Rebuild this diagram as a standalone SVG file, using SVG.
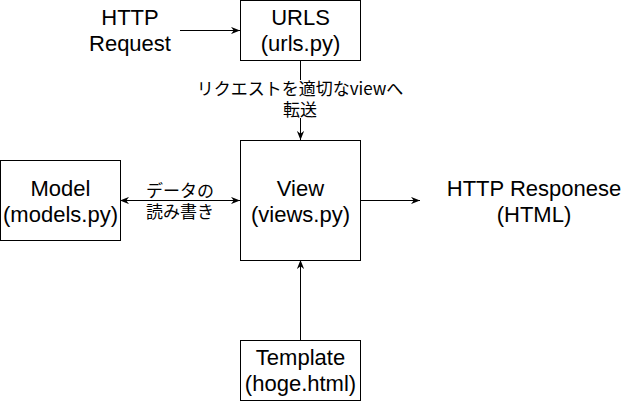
<svg xmlns="http://www.w3.org/2000/svg" width="631" height="401" viewBox="0 0 631 401">
<style>
.box{fill:#fff;stroke:#000;stroke-width:1}
.t{font-family:"Liberation Sans",Arial,sans-serif;font-size:22px;fill:#000;text-anchor:middle}
.j{font-family:"Noto Sans CJK JP",sans-serif;font-size:17px;fill:#000;text-anchor:middle}
.e{stroke:#000;stroke-width:1;fill:none}
</style>
<defs>
<marker id="arr" viewBox="0 0 10 8" refX="10" refY="4" markerWidth="9" markerHeight="7.5" markerUnits="userSpaceOnUse" orient="auto-start-reverse">
<path d="M0,0 L10,4 L0,8 L3,4 z" fill="#000"/>
</marker>
</defs>
<rect width="631" height="401" fill="#fff"/>
<g id="connectors">
<line class="e" x1="180" y1="30.5" x2="240" y2="30.5" marker-end="url(#arr)"/>
<line class="e" x1="300.5" y1="60" x2="300.5" y2="140" marker-end="url(#arr)"/>
<rect x="196" y="80" width="210" height="38" fill="#fff"/>
<text class="j" x="300" y="95">リクエストを適切なviewへ</text>
<text class="j" x="300" y="116">転送</text>
<line class="e" x1="120" y1="200.5" x2="240" y2="200.5" marker-start="url(#arr)" marker-end="url(#arr)"/>
<text class="j" x="180" y="197">データの</text>
<text class="j" x="180" y="218">読み書き</text>
<line class="e" x1="360" y1="200.5" x2="420" y2="200.5" marker-end="url(#arr)"/>
<line class="e" x1="300.5" y1="340" x2="300.5" y2="260" marker-end="url(#arr)"/>
</g>
<g id="request">
<text class="t" x="130" y="25">HTTP</text>
<text class="t" x="130" y="51">Request</text>
</g>
<g id="urls">
<rect class="box" x="240.5" y="0.5" width="120" height="60"/>
<text class="t" x="300.5" y="25">URLS</text>
<text class="t" x="300.5" y="51">(urls.py)</text>
</g>
<g id="model">
<rect class="box" x="0.5" y="160.5" width="120" height="80"/>
<text class="t" x="60.5" y="196">Model</text>
<text class="t" x="60.5" y="222">(models.py)</text>
</g>
<g id="view">
<rect class="box" x="240.5" y="140.5" width="120" height="120"/>
<text class="t" x="300.5" y="196">View</text>
<text class="t" x="300.5" y="222">(views.py)</text>
</g>
<g id="response">
<text class="t" x="534" y="196">HTTP Responese</text>
<text class="t" x="534" y="222">(HTML)</text>
</g>
<g id="template">
<rect class="box" x="240.5" y="340.5" width="120" height="60"/>
<text class="t" x="300.5" y="365">Template</text>
<text class="t" x="300.5" y="391">(hoge.html)</text>
</g>
</svg>
